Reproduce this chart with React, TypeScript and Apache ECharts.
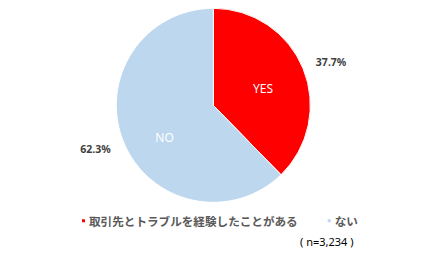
import React, { useEffect, useRef } from "react";
import * as echarts from "echarts";

const categories = ["取引先とトラブルを経験したことがある", "ない"];
const insideLabels = ["YES", "NO"];
const values = [37.7, 62.3];
const colors = ["#FF0000", "#BDD7EE"];
const sampleNote = "( n=3,234 )";

export default function App() {
  const ref = useRef<HTMLDivElement>(null);
  useEffect(() => {
    if (!ref.current) return;
    const chart = echarts.init(ref.current, null, { renderer: "svg" });
    const insideOffsets = [
      [2, 3],
      [-1, 13],
    ];
    const outsideOffsets = [
      [2, 4],
      [-2, -3],
    ];
    chart.setOption({
      animation: false,
      legend: {
        left: 80,
        top: 215,
        padding: 0,
        icon: "rect",
        itemWidth: 5,
        itemHeight: 5,
        itemGap: 28,
        selectedMode: false,
        data: categories.map((name, i) => ({
          name,
          itemStyle: { color: colors[i] },
        })),
        textStyle: {
          fontFamily: "Noto Sans CJK JP",
          fontSize: 11.6,
          fontWeight: "bold",
          color: "#595959",
          padding: [0, 0, 0, -2],
        },
      },
      graphic: [
        {
          type: "text",
          left: 300,
          top: 236,
          style: {
            text: sampleNote,
            font: "11px 'Noto Sans'",
            fill: "#000000",
          },
        },
      ],
      series: [
        {
          type: "pie",
          center: [213.3, 105.3],
          radius: [0, 97],
          startAngle: 90,
          clockwise: true,
          avoidLabelOverlap: false,
          silent: true,
          itemStyle: { borderColor: "#ffffff", borderWidth: 1 },
          labelLine: { show: false },
          data: categories.map((name, i) => ({
            name,
            value: values[i],
            itemStyle: { color: colors[i] },
            label: {
              show: true,
              position: "inside",
              formatter: insideLabels[i],
              color: "#ffffff",
              fontFamily: "Noto Sans",
              fontSize: 12,
              offset: insideOffsets[i],
            },
          })),
        },
        {
          type: "pie",
          center: [213.3, 105.3],
          radius: [0, 244],
          startAngle: 90,
          clockwise: true,
          avoidLabelOverlap: false,
          silent: true,
          z: 1,
          itemStyle: { color: "rgba(0,0,0,0)", borderWidth: 0 },
          labelLine: { show: false },
          data: categories.map((name, i) => ({
            name,
            value: values[i],
            label: {
              show: true,
              position: "inside",
              formatter: values[i].toFixed(1) + "%",
              color: "#404040",
              fontFamily: "Noto Sans",
              fontWeight: "bold",
              fontSize: 10.5,
              offset: outsideOffsets[i],
            },
          })),
        },
      ],
    });
    return () => chart.dispose();
  }, []);
  return (
    <div
      ref={ref}
      style={{ position: "fixed", left: 0, top: 0, width: 436, height: 255, background: "#fff" }}
    />
  );
}
